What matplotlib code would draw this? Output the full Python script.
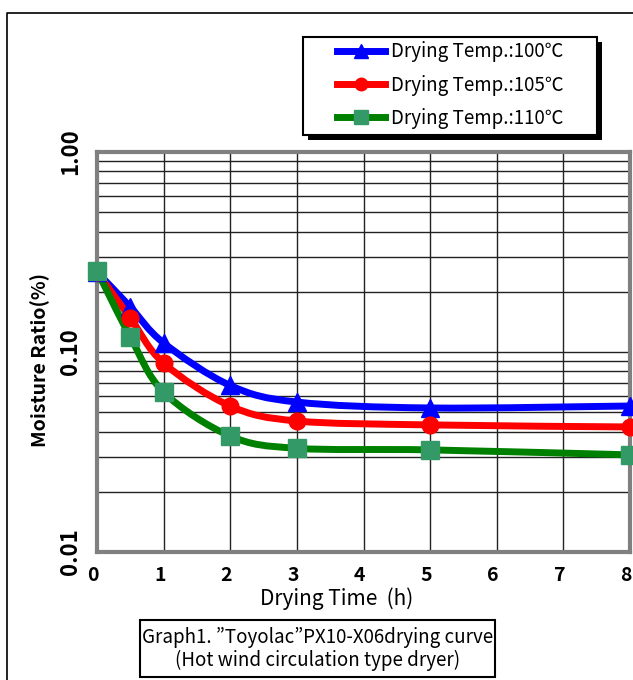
import numpy as np
import matplotlib.pyplot as plt
from matplotlib.path import Path
from matplotlib.patches import PathPatch, Rectangle
from matplotlib.lines import Line2D
from matplotlib.transforms import ScaledTranslation

plt.rcParams['font.family'] = ['Noto Sans CJK JP', 'DejaVu Sans']

hours = [0, 0.5, 1, 2, 3, 5, 8]
ratio_100 = [0.251, 0.168, 0.111, 0.068, 0.0562, 0.0525, 0.0537]
ratio_105 = [0.251, 0.148, 0.088, 0.0537, 0.0452, 0.0432, 0.0422]
ratio_110 = [0.255, 0.119, 0.063, 0.038, 0.033, 0.0324, 0.0306]
labels = ['Drying Temp.:100\u2103', 'Drying Temp.:105\u2103', 'Drying Temp.:110\u2103']
x_ticks = list(range(9))
y_ticks = [0.01, 0.1, 1.0]
y_ticklabels = ['0.01', '0.10', '1.00']

W, H = 633, 680


def smooth_path(x, y):
    # Catmull-Rom in (x, log y), drawn as cubic Bezier segments
    px = np.asarray(x, float)
    py = np.log10(np.asarray(y, float))
    n = len(px)
    verts = [(px[0], py[0])]
    codes = [Path.MOVETO]
    for i in range(n - 1):
        i0, i3 = max(i - 1, 0), min(i + 2, n - 1)
        c1 = (px[i] + (px[i + 1] - px[i0]) / 6, py[i] + (py[i + 1] - py[i0]) / 6)
        c2 = (px[i + 1] - (px[i3] - px[i]) / 6, py[i + 1] - (py[i3] - py[i]) / 6)
        verts += [c1, c2, (px[i + 1], py[i + 1])]
        codes += [Path.CURVE4] * 3
    verts = [(vx, 10 ** vy) for vx, vy in verts]
    return Path(verts, codes)


def fig_box(x0, y0, x1, y1, **kw):
    # rectangle given in pixel coords from the top-left corner
    return Rectangle((x0 / W, 1 - y1 / H), (x1 - x0) / W, (y1 - y0) / H,
                     transform=fig.transFigure, **kw)


fig = plt.figure(figsize=(W / 100, H / 100), dpi=100)
ax = fig.add_axes([97 / W, 1 - 552 / H, 533 / W, 400 / H])

series = [
    (ratio_100, '#0000FF', '#0000FF', '^', 13),
    (ratio_105, '#FF0000', '#FF0000', 'o', 12),
    (ratio_110, '#008000', '#339966', 's', 13),
]
handles = []
for (vals, lc, mc, mk, ms), lab in zip(series, labels):
    ax.add_patch(PathPatch(smooth_path(hours, vals), facecolor='none',
                           edgecolor=lc, lw=5, zorder=3, capstyle='round'))
    ax.plot(hours, vals, ls='none', marker=mk, ms=ms, color=mc, zorder=4,
            clip_on=False)
    handles.append(Line2D([], [], color=lc, lw=5, marker=mk, ms=ms - 3,
                          markerfacecolor=mc, markeredgecolor=mc))

ax.set_yscale('log')
ax.set_xlim(0, 8)
ax.set_ylim(0.01, 1.0)
ax.set_xticks(x_ticks)
ax.set_yticks(y_ticks)
ax.set_yticklabels(y_ticklabels, rotation=90, va='center')
ax.tick_params(axis='both', length=0)
ax.tick_params(axis='x', pad=10, labelsize=14)
ax.tick_params(axis='y', pad=11, labelsize=16)
shift = ScaledTranslation(-4 / 100, 0, fig.dpi_scale_trans)
for t in ax.get_xticklabels():
    t.set_transform(t.get_transform() + shift)
for t in ax.get_xticklabels() + ax.get_yticklabels():
    t.set_fontweight('bold')
ax.yaxis.set_minor_formatter(plt.NullFormatter())
ax.tick_params(axis='y', which='minor', length=0)
ax.grid(True, which='both', axis='y', color='#222222', lw=1.0)
ax.grid(True, which='major', axis='x', color='#222222', lw=1.0)
ax.set_axisbelow(True)
for sp in ax.spines.values():
    sp.set_color('#808080')
    sp.set_linewidth(3)

ax.set_ylabel('Moisture Ratio(%)', fontsize=14, fontweight='bold')
ax.yaxis.set_label_coords(-0.088, 0.48)
fig.text(337 / W, 1 - 599 / H, 'Drying Time  (h)', fontsize=15,
         ha='center', va='center')

# legend frame with a solid offset shadow
fig.add_artist(fig_box(308, 42, 602, 140, facecolor='black', edgecolor='none'))
fig.add_artist(fig_box(303, 37, 597, 135, facecolor='white',
                       edgecolor='black', lw=1.5))
leg = fig.legend(handles, labels, loc='center',
                 bbox_to_anchor=(450 / W, 1 - 85 / H), fontsize=13.5,
                 frameon=False, handlelength=2.6, labelspacing=0.65,
                 handletextpad=0.3, borderaxespad=0)

# caption box
fig.add_artist(fig_box(140, 620, 495, 677, facecolor='white',
                       edgecolor='black', lw=1.5))
fig.text(318 / W, 1 - 649 / H,
         'Graph1. \u201dToyolac\u201dPX10-X06drying curve\n(Hot wind circulation type dryer)',
         fontsize=13.5, ha='center', va='center', linespacing=1.15)

fig.add_artist(Line2D([7 / W, 7 / W, 1.0], [0.0, 1 - 13 / H, 1 - 13 / H],
                      color='black', lw=1.2, transform=fig.transFigure))

fig.savefig('out.png', dpi=100)
